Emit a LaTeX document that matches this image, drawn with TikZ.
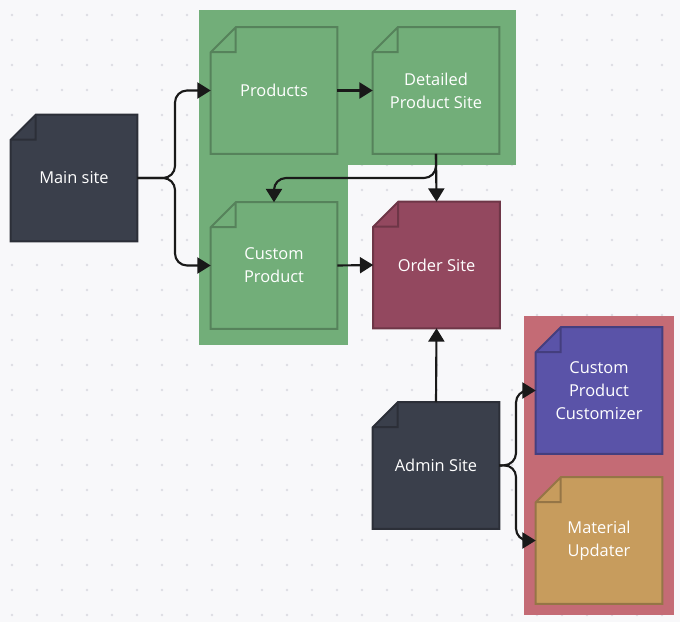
\documentclass[tikz,border=0pt]{standalone}
\usepackage{fontspec}
\setmainfont{Open Sans}
\usetikzlibrary{arrows.meta,backgrounds}
\definecolor{bgc}{HTML}{F8F8FA}
\definecolor{dotc}{HTML}{DDDDE3}
\definecolor{slate}{HTML}{3A3F4B}
\definecolor{leaf}{HTML}{72AE79}
\definecolor{wine}{HTML}{93485F}
\definecolor{iris}{HTML}{5A53A8}
\definecolor{sand}{HTML}{C79C5D}
\definecolor{rose}{HTML}{C46B75}

\begin{document}
\begin{tikzpicture}[x=0.75pt,y=-0.75pt,
	page/.style={minimum width=94.5pt,minimum height=94.5pt,inner sep=0pt,align=center,text=white,font=\fontsize{12.3}{17.2}\selectfont},
	conn/.style={line width=1.6pt,draw=black!90,-{Triangle[length=10pt,width=12pt]},rounded corners=9pt}]
	\useasboundingbox (0,0) rectangle (680,622);
	\node[page] (main) at (74,178) {Main site};
	\node[page] (prod) at (274,90.5) {Products};
	\node[page] (detail) at (436,90.5) {Detailed\\Product Site};
	\node[page] (custom) at (274,265.5) {Custom\\Product};
	\node[page] (order) at (436.5,265) {Order Site};
	\node[page] (admin) at (436,465.5) {Admin Site};
	\node[page] (cust) at (599,390.5) {Custom\\Product\\Customizer};
	\node[page] (mat) at (599,540.5) {Material\\Updater};
	\begin{scope}[on background layer]
		\fill[bgc] (0,0) rectangle (680,622);
		\foreach \x in {12,37,...,662} \foreach \y in {15,40,...,615} \fill[dotc] (\x,\y) circle[radius=1.1pt];
		\fill[leaf] (199,10) rectangle (348,345);
		\fill[leaf] (348,10) rectangle (516,165);
		\fill[rose] (524,316) rectangle (674,615);
		\foreach \n/\c in {main/slate,prod/leaf,detail/leaf,custom/leaf,order/wine,admin/slate,cust/iris,mat/sand}
			\draw[fill=\c,draw=\c!75!black,line width=1.5pt] (\n.north east) -- (\n.south east) -- (\n.south west) -- ([yshift=-18.75pt]\n.north west) -- ([xshift=18.75pt]\n.north west) -- cycle
				([xshift=18.75pt]\n.north west) |- ([yshift=-18.75pt]\n.north west);
	\end{scope}
	\draw[conn] (main.east) -- (175,178) |- (prod.west);
	\draw[conn] (main.east) -- (175,178) |- (custom.west);
	\draw[conn] (prod.east) -- (detail.west);
	\draw[conn] (detail.south) -- (order.north);
	\draw[conn] (detail.south) -- (436,178) -| (custom.north);
	\draw[conn] (custom.east) -- (order.west);
	\draw[conn] (admin.north) -- (order.south);
	\draw[conn] (admin.east) -- (516,465) |- (cust.west);
	\draw[conn] (admin.east) -- (516,465) |- (mat.west);
\end{tikzpicture}
\end{document}
